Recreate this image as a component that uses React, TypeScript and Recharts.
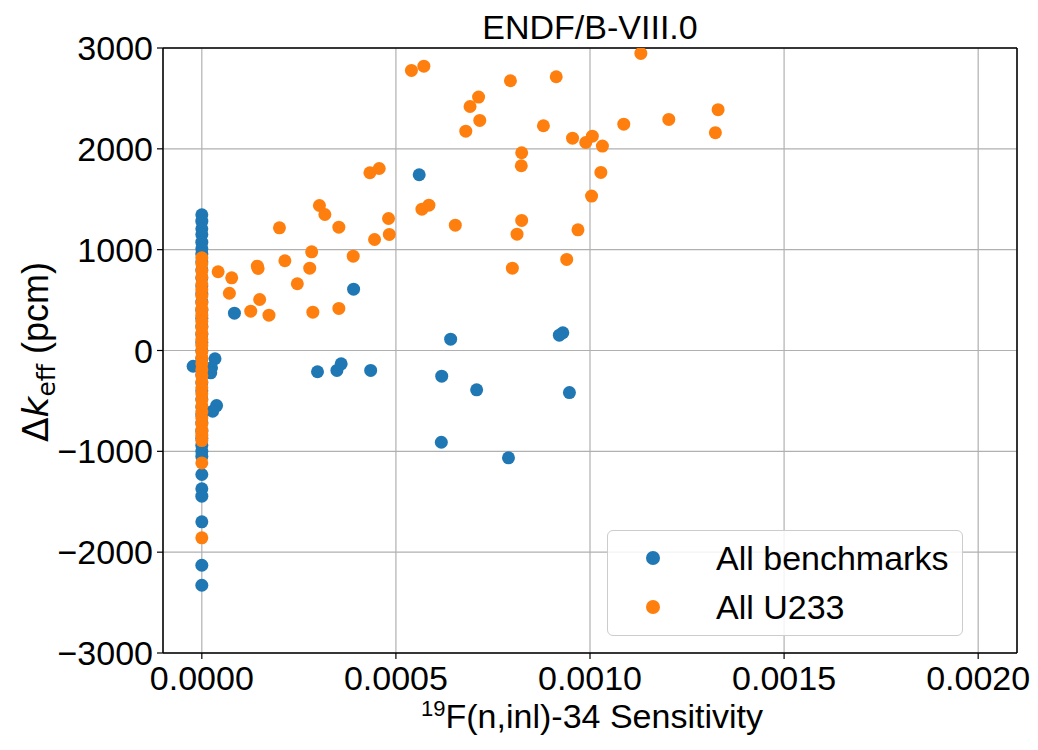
import { ScatterChart, Scatter, XAxis, YAxis, CartesianGrid, ReferenceLine, Legend, Customized } from 'recharts';

const FONT = '"Liberation Sans", Arial, sans-serif';
const MATH = '"DejaVu Sans", sans-serif';
const BLUE = '#1f77b4';
const ORANGE = '#ff7f0e';
const FS = 34;

// tick labels
const xTicks = [0, 0.0005, 0.001, 0.0015, 0.002];
const yTicks = [-3000, -2000, -1000, 0, 1000, 2000, 3000];

const seriesNames = ['All benchmarks', 'All U233'];
const seriesColors = [BLUE, ORANGE];

// All benchmarks: cases with zero sensitivity (the column at x = 0)
const benchZeroY = [
  1346, 1283, 1207, 1150, 1074, 1010, 960, 880, 800, 720, 640, 560, 480, 400, 320, 240, 160, 80,
  0, -80, -160, -240, -320, -400, -480, -560, -640, -720, -800, -870, -940, -1000, -1050, -1230,
  -1372, -1445, -1699, -2130, -2328,
];
// All benchmarks: remaining cases
const benchX = [
  -0.0000224, 0.000034, 0.000025, 0.000023, 0.000038, 0.000028, 0.000084, 0.000298, 0.000348,
  0.000359, 0.000435, 0.000391, 0.00056, 0.000641, 0.00093, 0.000921, 0.000618, 0.000708,
  0.000947, 0.000617, 0.00079,
];
const benchY = [
  -156, -82, -172, -221, -546, -602, 370, -211, -198, -132, -198, 608, 1743, 112, 176, 152, -255,
  -390, -417, -910, -1064,
];

// All U233: cases with zero sensitivity
const u233ZeroY = [
  919, 860, 790, 730, 660, 600, 540, 470, 410, 350, 290, 230, 170, 110, 50, -10, -70, -130, -190,
  -250, -310, -370, -430, -490, -550, -610, -670, -730, -790, -840, -893, -1115, -1858,
];
// All U233: remaining cases
const u233X = [
  0.000042, 0.000077, 0.000071, 0.000143, 0.000145, 0.000149, 0.000126, 0.000173, 0.000214,
  0.000278, 0.000283, 0.000246, 0.000286, 0.000353, 0.00039, 0.0002, 0.000303, 0.000317, 0.000353,
  0.000433, 0.000457, 0.000445, 0.000481, 0.000483, 0.00054, 0.000572, 0.000795, 0.000913,
  0.001131, 0.000713, 0.000691, 0.000716, 0.00068, 0.00088, 0.000955, 0.001006, 0.000989,
  0.001032, 0.001087, 0.001203, 0.00133, 0.001323, 0.000824, 0.000823, 0.001028, 0.001004,
  0.000969, 0.00094, 0.0008, 0.000824, 0.000812, 0.000653, 0.000567, 0.000585,
];
const u233Y = [
  781, 721, 568, 836, 813, 506, 390, 350, 890, 816, 979, 662, 380, 417, 935, 1217, 1438, 1349,
  1223, 1763, 1805, 1101, 1309, 1151, 2778, 2820, 2675, 2715, 2946, 2513, 2420, 2282, 2175, 2229,
  2106, 2126, 2063, 2027, 2245, 2292, 2388, 2160, 1961, 1832, 1766, 1531, 1197, 903, 816, 1290,
  1154, 1243, 1402, 1441,
];

const benchData = [
  ...benchZeroY.map((y) => ({ x: 0, y })),
  ...benchX.map((x, i) => ({ x, y: benchY[i] })),
];
const u233Data = [
  ...u233ZeroY.map((y) => ({ x: 0, y })),
  ...u233X.map((x, i) => ({ x, y: u233Y[i] })),
];

const dot = (color: string) => (p: any) => <circle cx={p.cx} cy={p.cy} r={6.5} fill={color} />;

const fmtY = (v: number) => (v < 0 ? '\u2212' + Math.abs(v) : String(v));

const Labels = () => (
  <g fill="#000">
    <text x={582} y={31} fontSize={34} fontFamily={FONT} textAnchor="middle">ENDF/B-VIII.0</text>
    <text x={584} y={720} fontSize={FS} fontFamily={FONT} textAnchor="middle">
      <tspan fontSize={22} dy={-12}>19</tspan>
      <tspan dy={12}>F(n,inl)-34 Sensitivity</tspan>
    </text>
    <text x={0} y={0} fontSize={36} textAnchor="middle" transform="translate(40, 344) rotate(-90)">
      <tspan fontFamily={MATH}>Δ</tspan>
      <tspan fontFamily={MATH} fontStyle="italic">k</tspan>
      <tspan fontFamily={MATH} fontSize={25} dy={7}>eff</tspan>
      <tspan fontFamily={FONT} dy={-7}> (pcm)</tspan>
    </text>
  </g>
);

const LegendBox = () => (
  <div
    style={{
      width: 356,
      height: 106,
      boxSizing: 'border-box',
      border: '1.5px solid #cccccc',
      borderRadius: 6,
      background: 'rgba(255,255,255,0.85)',
      position: 'relative',
      fontFamily: FONT,
      fontSize: FS,
      color: '#000',
    }}
  >
    {seriesNames.map((name, i) => (
      <div key={name} style={{ position: 'absolute', left: 0, top: 6 + i * 49, height: 42, display: 'flex', alignItems: 'center' }}>
        <span style={{ display: 'inline-block', width: 14, height: 14, borderRadius: '50%', background: seriesColors[i], marginLeft: 38 }} />
        <span style={{ marginLeft: 56 }}>{name}</span>
      </div>
    ))}
  </div>
);

export default function App() {
  return (
    <ScatterChart width={1030} height={740} margin={{ top: 40, right: 21, bottom: 45, left: 75 }}>
      <CartesianGrid stroke="#b0b0b0" strokeWidth={1.2} />
      <XAxis
        type="number"
        dataKey="x"
        domain={[-0.0001, 0.0021]}
        ticks={xTicks}
        tickFormatter={(v: number) => v.toFixed(4)}
        height={50}
        tickSize={6}
        tickMargin={7}
        axisLine={{ stroke: '#000', strokeWidth: 1.5 }}
        tickLine={{ stroke: '#000', strokeWidth: 1.2 }}
        tick={{ fontSize: FS, fill: '#000', fontFamily: FONT }}
        allowDataOverflow
      />
      <YAxis
        type="number"
        dataKey="y"
        domain={[-3000, 3000]}
        ticks={yTicks}
        tickFormatter={fmtY}
        width={80}
        tickSize={6}
        tickMargin={4}
        axisLine={{ stroke: '#000', strokeWidth: 1.5 }}
        tickLine={{ stroke: '#000', strokeWidth: 1.2 }}
        tick={{ fontSize: FS, fill: '#000', fontFamily: FONT }}
        allowDataOverflow
      />
      <ReferenceLine x={0.0021} stroke="#000" strokeWidth={1.5} />
      <ReferenceLine y={3000} stroke="#000" strokeWidth={1.5} />
      <Scatter name={seriesNames[0]} data={benchData} fill={BLUE} shape={dot(BLUE)} isAnimationActive={false} />
      <Scatter name={seriesNames[1]} data={u233Data} fill={ORANGE} shape={dot(ORANGE)} isAnimationActive={false} />
      <Legend
        layout="horizontal"
        align="center"
        verticalAlign="middle"
        content={LegendBox}
        wrapperStyle={{ left: 599, top: 522, width: 356, height: 106 }}
      />
      <Customized component={Labels} />
    </ScatterChart>
  );
}
